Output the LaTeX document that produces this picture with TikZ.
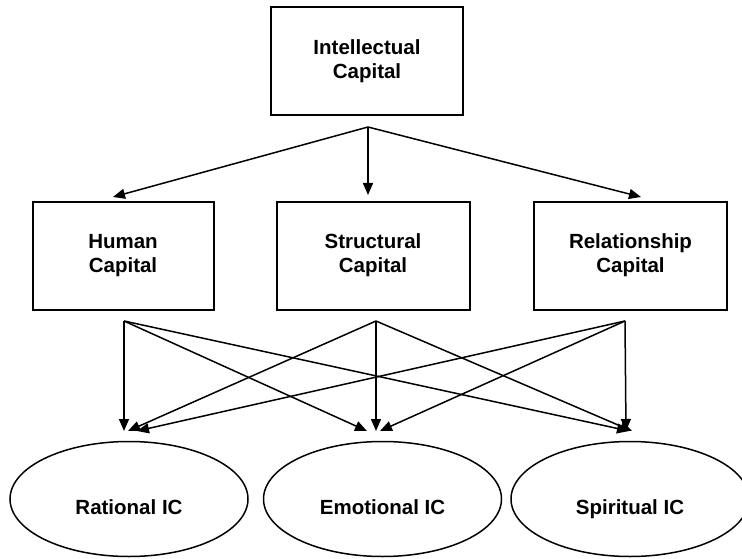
\documentclass[tikz,border=0pt]{standalone}
\usepackage{fontspec}
\setmainfont{Liberation Sans}
\usetikzlibrary{shapes,arrows.meta,positioning,calc}

\tikzset{
  capbox/.style={draw, line width=2pt, minimum height=108pt, align=center,
    font=\bfseries\fontsize{20.5}{24}\selectfont},
  icoval/.style={ellipse, draw, line width=1.5pt, minimum width=238pt,
    minimum height=115pt, text height=30pt, text depth=0pt,
    font=\bfseries\fontsize{20.5}{24}\selectfont},
  link/.style={-{Triangle[length=12pt,width=10pt]}, line width=1.5pt}
}

\begin{document}
\begin{tikzpicture}[x=1pt,y=-1pt]
    \useasboundingbox (0,0) rectangle (742,559);

    % Top level
    \node[capbox, minimum width=192pt] (ic) at (367,61) {Intellectual\\Capital};
    \coordinate (icout) at (368,127);

    % Capital components
    \node[capbox, minimum width=181pt] (human) at (123,255.5) {Human\\Capital};
    \node[capbox, minimum width=193pt] (struct) at (373,255.5) {Structural\\Capital};
    \node[capbox, minimum width=193pt] (relat) at (630.5,255.5) {Relationship\\Capital};

    \coordinate (humanin) at (113,197);
    \coordinate (structin) at (368,195);
    \coordinate (relatin) at (641,197);

    \draw[link] (icout) -- (humanin);
    \draw[link] (icout) -- (structin);
    \draw[link] (icout) -- (relatin);

    % Kinds of IC
    \node[icoval] (rational) at (129,499) {Rational IC};
    \node[icoval] (emotional) at (382.5,499) {Emotional IC};
    \node[icoval] (spiritual) at (630,499) {Spiritual IC};

    \coordinate (humanout) at (124,321);
    \coordinate (structout) at (376,321);
    \coordinate (relatout) at (625,321);

    \coordinate (ratin) at (124,431);
    \coordinate (emoin) at (376,431);
    \coordinate (spiin) at (628,431);

    % Links to each kind
    \draw[link] (humanout) -- (ratin);
    \draw[link] (humanout) -- ($(emoin)+(-9,0)$);
    \draw[link] (humanout) -- ($(spiin)+(1,0)$);
    \draw[link] (structout) -- ($(ratin)+(4,0)$);
    \draw[link] (structout) -- (emoin);
    \draw[link] (structout) -- ($(spiin)+(4,0)$);
    \draw[link] (relatout) -- ($(ratin)+(13,0)$);
    \draw[link] (relatout) -- ($(emoin)+(4,0)$);
    \draw[link] (relatout) -- ($(spiin)+(-2,0)$);
\end{tikzpicture}
\end{document}
